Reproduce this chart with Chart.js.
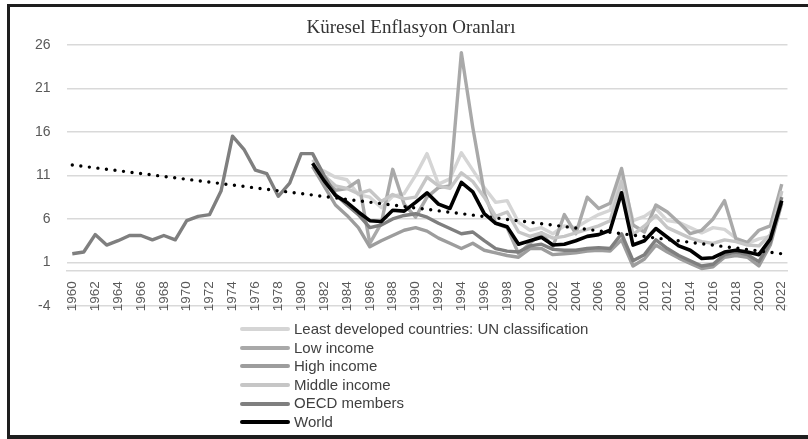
<!DOCTYPE html>
<html>
<head>
<meta charset="utf-8">
<script src="https://cdn.jsdelivr.net/npm/chart.js@4.4.1/dist/chart.umd.min.js"></script>
<style>
  html, body { margin: 0; padding: 0; background: #fff; }
  #wrap { position: relative; width: 808px; height: 439px; overflow: hidden; }
  #frame { position: absolute; left: 7px; top: 4px; width: 820px; height: 428px; border: 3px solid #1e1e1e; border-bottom-width: 4px; box-sizing: content-box; pointer-events: none; }
  #myChart { position: absolute; left: 0; top: 0; }
  #legend { position: absolute; left: 240px; top: 320px; font-family: 'Liberation Sans', Arial, sans-serif; font-size: 15px; color: #404040; }
  #legend .item { height: 18.6px; line-height: 18.6px; display: flex; align-items: center; white-space: nowrap; }
  #legend .swatch { display: inline-block; width: 50px; height: 4px; border-radius: 2px; margin-right: 4px; }
</style>
</head>
<body>
<div id="wrap">
  <canvas id="myChart" width="808" height="439"></canvas>
  <div id="legend"></div>
  <div id="frame"></div>
</div>
<script>
let years = ['1960','1961','1962','1963','1964','1965','1966','1967','1968','1969',
  '1970','1971','1972','1973','1974','1975','1976','1977','1978','1979',
  '1980','1981','1982','1983','1984','1985','1986','1987','1988','1989',
  '1990','1991','1992','1993','1994','1995','1996','1997','1998','1999',
  '2000','2001','2002','2003','2004','2005','2006','2007','2008','2009',
  '2010','2011','2012','2013','2014','2015','2016','2017','2018','2019',
  '2020','2021','2022'];

// 1960-1980 empty for everything except OECD
let ldc = [null,null,null,null,null,null,null,null,null,null,null,null,null,null,null,null,null,null,null,null,null,
  12.0,11.5,10.8,10.5,8.8,8.5,7.3,8.6,8.9,
  11.0,13.5,10.0,10.6,13.6,11.6,9.6,7.9,8.1,5.6,
  4.7,5.0,4.3,5.2,5.0,5.8,6.5,7.0,11.0,5.8,
  6.3,7.2,5.8,5.6,5.0,4.4,5.0,4.8,3.8,3.2,
  3.7,4.0,9.2];
let lowIncome = [null,null,null,null,null,null,null,null,null,null,null,null,null,null,null,null,null,null,null,null,null,
  12.0,10.8,9.3,9.5,10.4,3.2,5.5,11.7,7.7,
  6.2,8.5,9.6,9.8,25.1,16.5,9.0,5.5,5.0,2.0,
  3.2,4.4,2.8,6.5,4.3,8.5,7.2,7.8,11.8,5.3,
  4.5,7.6,6.8,5.6,4.3,4.7,6.0,8.1,3.7,3.3,
  4.7,5.2,10.0];
let highIncome = [null,null,null,null,null,null,null,null,null,null,null,null,null,null,null,null,null,null,null,null,null,
  12.0,9.8,7.6,6.4,5.0,2.8,3.5,4.1,4.7,
  5.0,4.6,3.8,3.2,2.6,3.2,2.4,2.1,1.8,1.6,
  2.6,2.6,1.9,2.0,2.1,2.3,2.4,2.3,3.6,0.6,
  1.4,3.0,2.2,1.5,0.9,0.3,0.5,1.6,1.8,1.6,
  0.6,3.0,7.8];
let middleIncome = [null,null,null,null,null,null,null,null,null,null,null,null,null,null,null,null,null,null,null,null,null,
  12.8,11.0,9.8,9.5,8.9,9.3,8.0,8.8,8.3,
  8.5,10.8,9.8,9.5,11.3,10.3,8.5,6.3,6.8,4.5,
  4.0,4.4,3.8,4.0,4.4,4.8,5.2,5.8,10.3,4.2,
  5.2,6.4,5.0,4.4,3.8,3.4,3.2,3.6,3.4,3.0,
  2.9,4.2,9.2];
let oecd = [2.0,2.2,4.2,3.0,3.5,4.1,4.1,3.6,4.1,3.6,
  5.8,6.3,6.5,9.2,15.5,14.0,11.6,11.2,8.6,10.1,
  13.5,13.5,11.0,8.8,7.6,6.5,5.0,5.3,6.0,6.4,
  6.6,6.2,5.5,4.9,4.3,4.5,3.5,2.6,2.3,2.2,
  2.9,3.1,2.5,2.4,2.4,2.6,2.7,2.6,4.3,1.2,
  1.9,3.6,2.6,1.8,1.2,0.6,0.8,1.9,2.2,1.9,
  1.1,3.3,8.5];
let world = [null,null,null,null,null,null,null,null,null,null,null,null,null,null,null,null,null,null,null,null,null,
  12.4,10.4,8.7,7.9,6.8,5.8,5.7,7.0,6.9,
  7.9,9.0,7.7,7.2,10.2,9.1,6.6,5.5,5.1,3.1,
  3.5,3.9,3.0,3.1,3.5,4.0,4.2,4.7,9.0,3.0,
  3.5,4.9,3.9,2.9,2.4,1.45,1.55,2.2,2.4,2.2,
  1.9,3.7,8.1];
// dotted linear trend, only its two ends
let trendEnds = [12.2, 2.0];
let yTicks = [-4, 1, 6, 11, 16, 21, 26];

let seriesNames = ['Least developed countries: UN classification', 'Low income', 'High income', 'Middle income', 'OECD members', 'World'];
let seriesData = [ldc, lowIncome, highIncome, middleIncome, oecd, world];
let colorHex = ['#d5d5d5', '#a9a9a9', '#9d9d9d', '#c6c6c6', '#7f7f7f', '#000000'];
let widths = [3.4, 3.4, 3.4, 3.4, 3.4, 3.6];

let trend = years.map((y, i) => i === 0 ? trendEnds[0] : (i === years.length - 1 ? trendEnds[1] : null));

let datasets = seriesNames.map((name, i) => ({
  label: name,
  data: seriesData[i],
  borderColor: colorHex[i],
  backgroundColor: colorHex[i],
  borderWidth: widths[i],
  pointRadius: 0,
  tension: 0,
  spanGaps: false,
  borderJoinStyle: 'round',
  order: seriesNames.length - i
}));
datasets.push({
  label: 'trend',
  data: trend,
  borderColor: '#000',
  borderWidth: 3.4,
  borderDash: [0, 8.6],
  borderCapStyle: 'round',
  pointRadius: 0,
  spanGaps: true,
  order: 0
});

let ctx = document.getElementById('myChart').getContext('2d');
let myChart = new Chart(ctx, {
  type: 'line',
  data: { labels: years, datasets: datasets },
  options: {
    responsive: false,
    animation: false,
    devicePixelRatio: 1,
    layout: { padding: { left: 19, right: 5, top: 0, bottom: 133 } },
    plugins: {
      legend: { display: false },
      tooltip: { enabled: false },
      title: {
        display: true,
        text: 'Küresel Enflasyon Oranları',
        color: '#333',
        font: { family: "'Liberation Serif', 'Times New Roman', serif", size: 19, weight: 'normal' },
        padding: { top: 17, bottom: 5 }
      }
    },
    scales: {
      x: {
        offset: true,
        position: { y: 0 },
        grid: { display: false, drawTicks: false },
        border: { display: true, color: '#d9d9d9', width: 1.5 },
        ticks: {
          autoSkip: false,
          minRotation: 90,
          maxRotation: 90,
          padding: 10,
          color: '#595959',
          font: { family: "'Liberation Sans', Arial, sans-serif", size: 13.5 },
          callback: function (value, index) {
            return index % 2 === 0 ? this.getLabelForValue(value) : '';
          }
        }
      },
      y: {
        min: yTicks[0],
        max: yTicks[yTicks.length - 1],
        afterBuildTicks: (axis) => { axis.ticks = yTicks.map(v => ({ value: v })); },
        grid: { color: '#d9d9d9', lineWidth: 1.5, drawTicks: false },
        border: { display: false },
        ticks: {
          padding: 16,
          color: '#595959',
          font: { family: "'Liberation Sans', Arial, sans-serif", size: 14 }
        }
      }
    }
  }
});

// legend in one column, built from the chart's datasets
let legendBox = document.getElementById('legend');
myChart.data.datasets.forEach((ds) => {
  if (ds.label === 'trend') return;
  let item = document.createElement('div');
  item.className = 'item';
  let sw = document.createElement('span');
  sw.className = 'swatch';
  sw.style.background = ds.borderColor;
  let txt = document.createElement('span');
  txt.textContent = ds.label;
  item.appendChild(sw);
  item.appendChild(txt);
  legendBox.appendChild(item);
});
</script>
</body>
</html>
